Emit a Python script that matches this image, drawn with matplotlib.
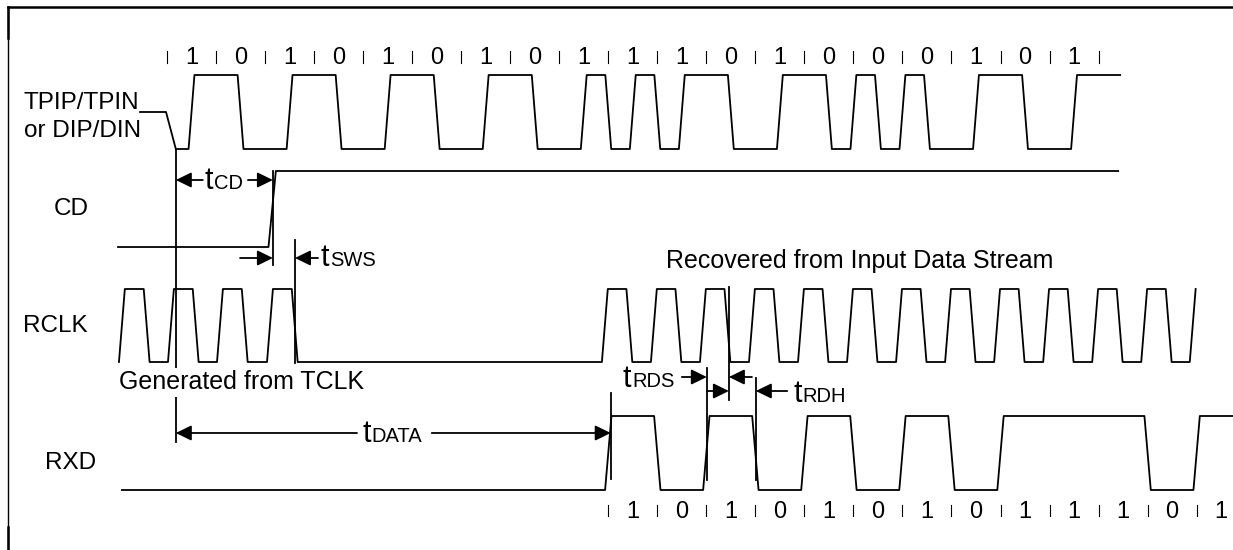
import matplotlib.pyplot as plt

plt.rcParams['font.family'] = ['Liberation Sans', 'DejaVu Sans']

# Bit patterns written above TPIP/TPIN and below RXD
line_bits = [1, 0, 1, 0, 1, 0, 1, 0, 1, 1, 1, 0, 1, 0, 0, 0, 1, 0, 1]
rxd_bits = [1, 0, 1, 0, 1, 0, 1, 0, 1, 1, 1, 0, 1]

# Times in unit intervals (UI), 0 = first bit boundary of the line input
line_start, line_drop, line_end = -0.55, -0.02, 19.44
cd_start, cd_rise, cd_end = -1.0, 2.07, 19.4
rclk_gen_rise = [-0.98, 0.02, 1.02, 2.04]                 # generated from TCLK
rclk_rec_rise = [8.87, 9.87, 10.87, 11.87, 12.87, 13.87, 14.87,
                 15.87, 16.87, 17.87, 18.87, 19.87, 20.86]  # recovered clock
rxd_start, rxd_first, rxd_end = -0.92, 9.0, 22.0

# Timing parameters (start, end) in UI
t_cd = (0.18, 2.16)
t_sws = (2.16, 2.61)
t_data = (0.18, 9.05)
t_rds = (11.01, 11.46)
t_rdh = (11.46, 12.01)

PX = 49.03   # pixels per UI in the drawing
X0 = 167.0   # pixel column of t = 0
W = 0.12     # edge ramp width (UI)
LW = 1.3


def manchester(bits, hi, lo, mid):
    xs = [line_start, line_drop, line_drop + 0.2]
    ys = [mid, mid, lo]
    level = 0
    for k, b in enumerate(bits):
        first = 0 if b == 1 else 1
        for t, lev in ((k, first), (k + 0.5, 1 - first)):
            if lev != level:
                xs += [t - W / 2, t + W / 2]
                ys += [hi if level else lo, hi if lev else lo]
                level = lev
    xs.append(line_end)
    ys.append(hi if level else lo)
    return xs, ys


def clock(rises, hi, lo, high=0.385, open_last=False):
    xs, ys = [], []
    for i, r in enumerate(rises):
        xs += [r, r + W]
        ys += [lo, hi]
        if open_last and i == len(rises) - 1:
            break
        xs += [r + W + high, r + 2 * W + high]
        ys += [hi, lo]
    return xs, ys


def nrz(bits, hi, lo):
    xs, ys = [rxd_start], [lo]
    level = 0
    for k, b in enumerate(bits):
        t = rxd_first + k
        if b != level:
            xs += [t - 0.065, t + 0.065]
            ys += [hi if level else lo, hi if b else lo]
            level = b
    xs.append(rxd_end)
    ys.append(hi if level else lo)
    return xs, ys


def arrow(ax, tail, head, y):
    ax.annotate('', xy=(head, y), xytext=(tail, y),
                arrowprops=dict(arrowstyle='-|>,head_length=0.47,head_width=0.23',
                                mutation_scale=20, color='black', lw=LW,
                                shrinkA=0, shrinkB=0), zorder=4)


def tlabel(ax, x_t, y, sub):
    ax.text(x_t, y, 't', fontsize=22, va='baseline', ha='left')
    ax.text(x_t + 9.0 / PX, y, sub, fontsize=14.5, va='baseline', ha='left')


fig = plt.figure(figsize=(12.33, 5.5), dpi=100)
ax = fig.add_axes([0, 0, 1, 1])
ax.set_xlim(-X0 / PX, (1233 - X0) / PX)
ax.set_ylim(550, 0)
ax.axis('off')

# frame
ax.plot([8 / 1233, 1], [1 - 7 / 550] * 2, transform=ax.transAxes, color='black', lw=1.8)
ax.plot([8 / 1233] * 2, [0, 1 - 7 / 550], transform=ax.transAxes, color='black', lw=1.0)
ax.plot([8 / 1233] * 2, [1 - 7 / 550, 1 - 38 / 550], transform=ax.transAxes, color='black', lw=1.8)
ax.plot([8 / 1233] * 2, [0, 1 - 527 / 550], transform=ax.transAxes, color='black', lw=1.8)

# waveforms
xs, ys = manchester(line_bits, 75, 149, 112)
ax.plot(xs, ys, color='black', lw=LW, zorder=3)
ax.plot([cd_start, cd_rise, cd_rise + 0.15, cd_end], [247, 247, 171, 171], color='black', lw=LW, zorder=3)
gx, gy = clock(rclk_gen_rise, 289, 362)
rx, ry = clock(rclk_rec_rise, 289, 362, high=0.38, open_last=True)
ax.plot(gx + rx, gy + ry, color='black', lw=LW, zorder=3)
xs, ys = nrz(rxd_bits, 416, 490)
ax.plot(xs, ys, color='black', lw=LW, zorder=3)

# bit labels with boundary ticks
for k in range(len(line_bits) + 1):
    ax.plot([k, k], [51, 63], color='black', lw=0.8)
for k, b in enumerate(line_bits):
    ax.text(k + 0.5, 64, str(b), fontsize=17, ha='center', va='baseline')
for k in range(len(rxd_bits)):
    ax.plot([rxd_first + k] * 2, [505, 516], color='black', lw=0.8)
for k, b in enumerate(rxd_bits):
    ax.text(rxd_first + k + 0.5, 518, str(b), fontsize=17, ha='center', va='baseline')

# signal names
ax.text(-2.92, 109, 'TPIP/TPIN', fontsize=17.5, va='baseline')
ax.text(-2.92, 137, 'or DIP/DIN', fontsize=17.5, va='baseline')
ax.text(-1.96, 215, 'CD', fontsize=17.5, va='baseline', ha='center')
ax.text(-2.94, 332, 'RCLK', fontsize=17.5, va='baseline')
ax.text(-2.49, 469, 'RXD', fontsize=17.5, va='baseline')
ax.text(-0.98, 389, 'Generated from TCLK', fontsize=18, va='baseline', zorder=2,
        bbox=dict(facecolor='white', edgecolor='none', boxstyle='square,pad=0.1'))
ax.text(10.18, 268, 'Recovered from Input Data Stream', fontsize=18, va='baseline')

# reference lines
ax.plot([t_cd[0]] * 2, [150, 442], color='black', lw=LW, zorder=1)
ax.plot([t_cd[1]] * 2, [171, 265], color='black', lw=LW, zorder=1)
ax.plot([t_sws[1]] * 2, [240, 363], color='black', lw=LW, zorder=1)
ax.plot([t_data[1]] * 2, [393, 479], color='black', lw=LW, zorder=1)
ax.plot([t_rds[0]] * 2, [368, 480], color='black', lw=LW, zorder=1)
ax.plot([t_rds[1]] * 2, [287, 400], color='black', lw=LW, zorder=1)
ax.plot([t_rdh[1]] * 2, [378, 480], color='black', lw=LW, zorder=1)

# tCD
arrow(ax, 0.73, t_cd[0], 180)
tlabel(ax, 0.775, 189, 'CD')
arrow(ax, 1.65, t_cd[1], 180)
# tSWS
arrow(ax, 1.49, t_sws[0], 258)
arrow(ax, 3.08, t_sws[1], 258)
tlabel(ax, 3.14, 266, 'SWS')
# tDATA
arrow(ax, 3.875, t_data[0], 433)
tlabel(ax, 3.98, 442, 'DATA')
arrow(ax, 5.40, t_data[1], 433)
# tRDS
tlabel(ax, 9.30, 387, 'RDS')
arrow(ax, 10.50, t_rds[0], 377)
arrow(ax, 11.93, t_rds[1], 377)
# tRDH
arrow(ax, t_rdh[0] - 0.45, t_rdh[0], 391)
arrow(ax, 12.65, t_rdh[1], 391)
tlabel(ax, 12.77, 402, 'RDH')

plt.savefig('out.png', dpi=100)
